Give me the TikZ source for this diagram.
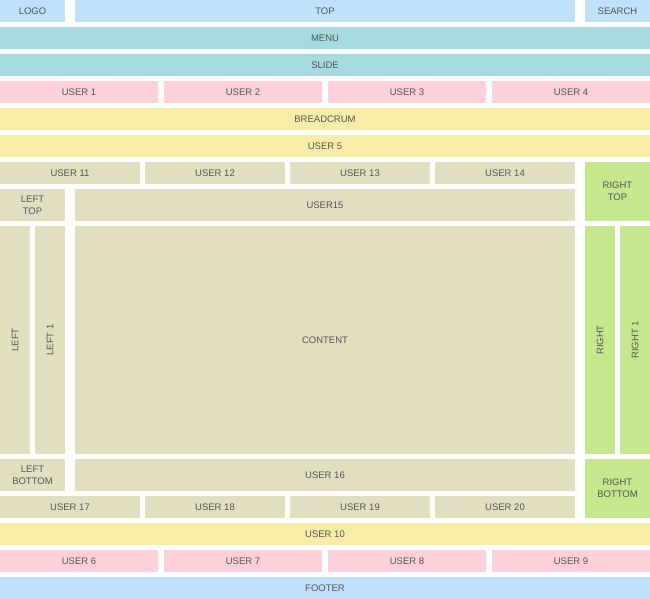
\documentclass[tikz,border=0pt]{standalone}
\usepackage{fontspec}
\setmainfont{Liberation Sans}
\usepackage{tikz}
\usepackage{xcolor}
\definecolor{lyblue}{RGB}{191,225,250}
\definecolor{lyteal}{RGB}{165,219,222}
\definecolor{lypink}{RGB}{253,208,220}
\definecolor{lyyellow}{RGB}{245,237,168}
\definecolor{lybeige}{RGB}{226,222,192}
\definecolor{lygreen}{RGB}{197,232,143}
\definecolor{lytext}{RGB}{85,85,85}
\tikzset{
  lybox/.style={inner sep=0pt, outer sep=0pt, align=center, text=lytext},
  lyboxblue/.style={lybox, fill=lyblue},
  lyboxteal/.style={lybox, fill=lyteal},
  lyboxpink/.style={lybox, fill=lypink},
  lyboxyellow/.style={lybox, fill=lyyellow},
  lyboxbeige/.style={lybox, fill=lybeige},
  lyboxgreen/.style={lybox, fill=lygreen}
}
% style, name, x, y (top left), width, height, text
\newcommand{\lyblock}[7]{\node[#1, anchor=north west, minimum width=#5pt, minimum height=#6pt] (#2) at (#3,#4) {#7};}

\begin{document}
\begin{tikzpicture}[x=1pt, y=-1pt, font=\fontsize{9.5}{12}\selectfont]
  \useasboundingbox (0,0) rectangle (650,599);
  % header
  \lyblock{lyboxblue}{logo}{0}{0}{65}{22}{LOGO}
  \lyblock{lyboxblue}{top}{75}{0}{500}{22}{TOP}
  \lyblock{lyboxblue}{search}{585}{0}{65}{22}{SEARCH}
  \lyblock{lyboxteal}{menu}{0}{27}{650}{22}{MENU}
  \lyblock{lyboxteal}{slide}{0}{54}{650}{22}{SLIDE}
  \lyblock{lyboxpink}{user1}{0}{81}{158}{22}{USER 1}
  \lyblock{lyboxpink}{user2}{164}{81}{158}{22}{USER 2}
  \lyblock{lyboxpink}{user3}{328}{81}{158}{22}{USER 3}
  \lyblock{lyboxpink}{user4}{492}{81}{158}{22}{USER 4}
  \lyblock{lyboxyellow}{breadcrum}{0}{108}{650}{22}{BREADCRUM}
  \lyblock{lyboxyellow}{user5}{0}{135}{650}{22}{USER 5}
  % body
  \lyblock{lyboxbeige}{user11}{0}{162}{140}{22}{USER 11}
  \lyblock{lyboxbeige}{user12}{145}{162}{140}{22}{USER 12}
  \lyblock{lyboxbeige}{user13}{290}{162}{140}{22}{USER 13}
  \lyblock{lyboxbeige}{user14}{435}{162}{140}{22}{USER 14}
  \lyblock{lyboxgreen}{righttop}{585}{162}{65}{59}{RIGHT\\TOP}
  \lyblock{lyboxbeige}{lefttop}{0}{189}{65}{32}{LEFT\\TOP}
  \lyblock{lyboxbeige}{user15}{75}{189}{500}{32}{USER15}
  \node[lyboxbeige, rotate=90, minimum width=228pt, minimum height=30pt] (left) at (15,340) {LEFT};
  \node[lyboxbeige, rotate=90, minimum width=228pt, minimum height=30pt] (left1) at (50,340) {LEFT 1};
  \lyblock{lyboxbeige}{content}{75}{226}{500}{228}{CONTENT}
  \node[lyboxgreen, rotate=90, minimum width=228pt, minimum height=30pt] (right) at (600,340) {RIGHT};
  \node[lyboxgreen, rotate=90, minimum width=228pt, minimum height=30pt] (right1) at (635,340) {RIGHT 1};
  \lyblock{lyboxbeige}{leftbottom}{0}{459}{65}{32}{LEFT\\BOTTOM}
  \lyblock{lyboxbeige}{user16}{75}{459}{500}{32}{USER 16}
  \lyblock{lyboxgreen}{rightbottom}{585}{459}{65}{59}{RIGHT\\BOTTOM}
  \lyblock{lyboxbeige}{user17}{0}{496}{140}{22}{USER 17}
  \lyblock{lyboxbeige}{user18}{145}{496}{140}{22}{USER 18}
  \lyblock{lyboxbeige}{user19}{290}{496}{140}{22}{USER 19}
  \lyblock{lyboxbeige}{user20}{435}{496}{140}{22}{USER 20}
  % footer
  \lyblock{lyboxyellow}{user10}{0}{523}{650}{22}{USER 10}
  \lyblock{lyboxpink}{user6}{0}{550}{158}{22}{USER 6}
  \lyblock{lyboxpink}{user7}{164}{550}{158}{22}{USER 7}
  \lyblock{lyboxpink}{user8}{328}{550}{158}{22}{USER 8}
  \lyblock{lyboxpink}{user9}{492}{550}{158}{22}{USER 9}
  \lyblock{lyboxblue}{footer}{0}{577}{650}{22}{FOOTER}
\end{tikzpicture}
\end{document}
